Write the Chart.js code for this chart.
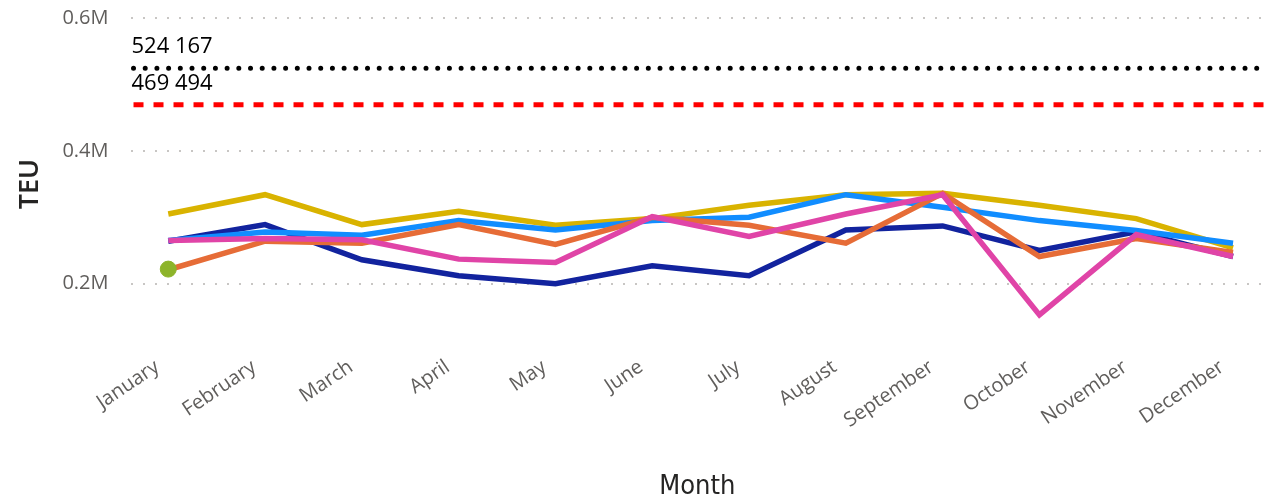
<!DOCTYPE html>
<html>
<head>
<meta charset="utf-8">
<script src="https://cdn.jsdelivr.net/npm/chart.js@4"></script>
<style>
  html, body { margin: 0; padding: 0; background: #fff; }
  #wrap { width: 1264px; height: 497px; position: relative; }
</style>
</head>
<body>
<div id="wrap"><canvas id="c"></canvas></div>
<script>
// data (values in millions of TEU)
const months = ['January', 'February', 'March', 'April', 'May', 'June', 'July',
                'August', 'September', 'October', 'November', 'December'];
const navyVals   = [0.264, 0.289, 0.236, 0.212, 0.200, 0.227, 0.212, 0.281, 0.287, 0.250, 0.278, 0.241];
const blueVals   = [0.265, 0.278, 0.273, 0.295, 0.281, 0.295, 0.300, 0.334, 0.315, 0.295, 0.280, 0.261];
const yellowVals = [0.305, 0.334, 0.289, 0.309, 0.288, 0.298, 0.318, 0.334, 0.336, 0.318, 0.298, 0.254];
const orangeVals = [0.221, 0.264, 0.261, 0.289, 0.259, 0.300, 0.288, 0.261, 0.336, 0.241, 0.268, 0.247];
const pinkVals   = [0.265, 0.268, 0.266, 0.237, 0.232, 0.301, 0.271, 0.305, 0.334, 0.153, 0.274, 0.241];
const greenVals  = [0.222];
const refLines = [
  { value: 0.524167, label: '524 167', color: '#000000', dash: [0, 11.7], cap: 'round' },
  { value: 0.469494, label: '469 494', color: '#ff0000', dash: [10, 10], cap: 'butt' }
];
const yTicks = [0.2, 0.4, 0.6];

const toPts = arr => arr.map((v, i) => ({ x: i, y: v }));

function line(vals, color) {
  return {
    data: toPts(vals),
    borderColor: color,
    backgroundColor: color,
    borderWidth: 5.5,
    pointRadius: 0,
    tension: 0
  };
}

// horizontal reference lines with their value labels
const refPlugin = {
  id: 'refLines',
  afterDatasetsDraw(chart) {
    const ctx = chart.ctx, ya = chart.scales.y, area = chart.chartArea;
    refLines.forEach(r => {
      const y = ya.getPixelForValue(r.value);
      ctx.save();
      ctx.strokeStyle = r.color;
      ctx.lineWidth = 5;
      ctx.lineCap = r.cap;
      ctx.setLineDash(r.dash);
      ctx.beginPath();
      ctx.moveTo(area.left + 3, y);
      ctx.lineTo(area.right, y);
      ctx.stroke();
      ctx.setLineDash([]);
      ctx.fillStyle = '#000';
      ctx.font = '22px "Open Sans", sans-serif';
      ctx.textBaseline = 'alphabetic';
      ctx.fillText(r.label, area.left + 1, y - 15);
      ctx.restore();
    });
  }
};

new Chart(document.getElementById('c'), {
  type: 'line',
  data: {
    datasets: [
      { data: toPts(greenVals), borderColor: '#8db42a', backgroundColor: '#8db42a',
        pointRadius: 8, pointHoverRadius: 8, showLine: false },
      line(pinkVals, '#e044a7'),
      line(orangeVals, '#e66c37'),
      line(blueVals, '#118dff'),
      line(yellowVals, '#d9b300'),
      line(navyVals, '#12239e')
    ]
  },
  options: {
    responsive: true,
    maintainAspectRatio: false,
    animation: false,
    layout: { autoPadding: false, padding: { top: 18, right: 0, bottom: 0, left: 14 } },
    plugins: { legend: { display: false }, tooltip: { enabled: false } },
    scales: {
      x: {
        type: 'linear',
        min: -0.39,
        max: 11.32,
        afterBuildTicks: axis => { axis.ticks = months.map((m, i) => ({ value: i })); },
        ticks: {
          autoSkip: false,
          minRotation: 34,
          maxRotation: 34,
          color: '#605e5c',
          font: { family: '"Open Sans", sans-serif', size: 20 },
          padding: -3,
          labelOffset: -11,
          callback: v => months[v]
        },
        grid: { display: false },
        border: { display: false },
        title: {
          display: true,
          text: 'Month',
          color: '#252423',
          font: { family: '"DejaVu Sans Condensed", "Open Sans", sans-serif', size: 27 },
          padding: { top: 41, bottom: -6 }
        }
      },
      y: {
        min: 0.1,
        max: 0.6,
        afterBuildTicks: axis => { axis.ticks = yTicks.map(v => ({ value: v })); },
        ticks: {
          color: '#605e5c',
          font: { family: '"Open Sans", sans-serif', size: 20 },
          padding: 4,
          callback: v => v.toFixed(1) + 'M'
        },
        grid: {
          color: '#c8c6c4',
          lineWidth: 2,
          drawTicks: true,
          tickLength: 18,
          tickColor: 'rgba(0,0,0,0)'
        },
        border: { display: false, dash: [2, 10] },
        title: {
          display: true,
          text: 'TEU',
          color: '#252423',
          font: { family: '"Open Sans", sans-serif', size: 27, weight: '600' },
          padding: { top: 0, bottom: 12 }
        }
      }
    }
  },
  plugins: [refPlugin]
});
</script>
</body>
</html>
